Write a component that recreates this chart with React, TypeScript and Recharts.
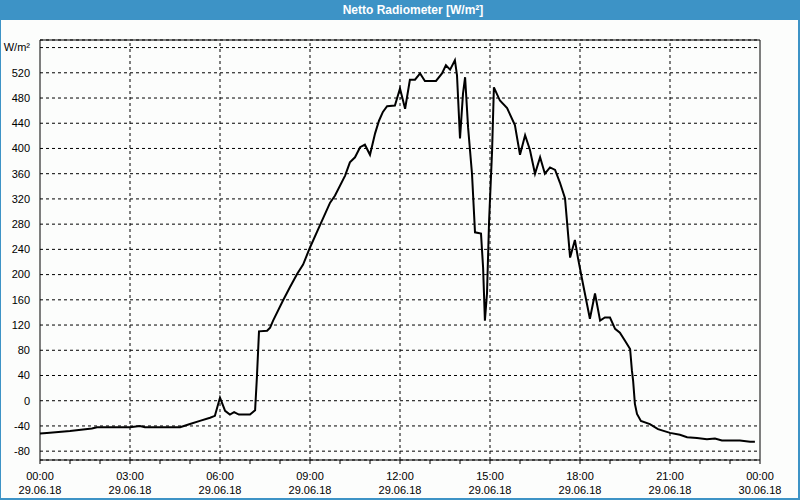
import React from 'react';
import {
  LineChart,
  Line,
  XAxis,
  YAxis,
  CartesianGrid,
  ReferenceLine,
  ReferenceArea
} from 'recharts';

// time of day in hours
const hours = [
  0, 0.23, 1.0, 1.73, 1.9, 3.0, 3.33, 3.5, 4.67, 5.0, 5.33, 5.67, 5.83, 6.0,
  6.17, 6.33, 6.47, 6.63, 7.0, 7.17, 7.23, 7.3, 7.57, 7.67, 7.77, 8.1, 8.33,
  8.57, 8.77, 9.0, 9.33, 9.67, 9.83, 10.17, 10.33, 10.5, 10.67, 10.83, 11.0,
  11.17, 11.3, 11.43, 11.57, 11.83, 12.0, 12.17, 12.33, 12.5, 12.67, 12.83,
  13.2, 13.4, 13.53, 13.67, 13.83, 13.9, 14.0, 14.1, 14.17, 14.27, 14.4, 14.5,
  14.7, 14.77, 14.83, 14.9, 14.97, 15.07, 15.13, 15.33, 15.57, 15.83, 16.0,
  16.17, 16.33, 16.5, 16.67, 16.83, 17.0, 17.17, 17.33, 17.5, 17.67, 17.83,
  17.93, 18.1, 18.33, 18.5, 18.67, 18.83, 19.0, 19.17, 19.33, 19.5, 19.67,
  19.73, 19.77, 19.83, 19.9, 20.03, 20.33, 20.6, 21.0, 21.33, 21.57, 21.9,
  22.23, 22.5, 22.73, 23.33, 23.67, 23.83
];

// net radiation in W/m²
const radiation = [
  -52, -51, -48, -44, -42, -42, -40, -42, -42, -37, -32, -27, -24, 5,
  -16, -22, -18, -22, -22, -15, 37, 110, 111, 116, 127, 159, 180,
  201, 216, 243, 278, 314, 325, 357, 378, 386, 402, 406, 390,
  424, 444, 458, 467, 468, 495, 463, 509, 509, 519, 507,
  507, 519, 532, 525, 540, 516, 416, 487, 513, 433, 360, 267,
  265, 211, 127, 170, 286, 397, 497, 476, 464, 437, 390,
  421, 398, 360, 386, 360, 370, 366, 346, 321, 227, 255,
  227, 185, 130, 170, 127, 132, 132, 114, 108, 95, 82,
  48, 32, -5, -21, -32, -37, -45, -51, -54, -58, -59,
  -61, -60, -63, -63, -65, -65
];

const yTicks = [-80, -40, 0, 40, 80, 120, 160, 200, 240, 280, 320, 360, 400, 440, 480, 520, 560];
const xTicks = [0, 1, 2, 3, 4, 5, 6, 7, 8, 9, 10, 11, 12, 13, 14, 15, 16, 17, 18, 19, 20, 21, 22, 23, 24];
const majorHours = [3, 6, 9, 12, 15, 18, 21];
const dayLabels = ['29.06.18', '30.06.18'];

const data = hours.map((h, i) => ({ h, value: radiation[i] }));

const FONT = '"Liberation Sans", Arial, sans-serif';
const BLUE = '#3d93c6';

const XTick = (props: any) => {
  const { x, y, payload } = props;
  const h: number = payload.value;
  const major = h % 3 === 0;
  const hh = String(h % 24).padStart(2, '0') + ':00';
  const day = dayLabels[h >= 24 ? 1 : 0];
  return (
    <g>
      <line x1={x} y1={y} x2={x} y2={y + 4} stroke="#000" />
      {major && (
        <text x={x} y={y + 20} textAnchor="middle" fontSize={11} fontFamily={FONT} fill="#000">
          {hh}
        </text>
      )}
      {major && (
        <text x={x} y={y + 34} textAnchor="middle" fontSize={11} fontFamily={FONT} fill="#000">
          {day}
        </text>
      )}
    </g>
  );
};

const App: React.FC = () => {
  return (
    <div style={{ position: 'fixed', left: 0, top: 0, width: 800, height: 500, background: '#fcfdfc' }}>
      <div style={{ position: 'absolute', left: 0, top: 0 }}>
        <LineChart width={800} height={500} data={data} margin={{ top: 40, right: 40, left: 0, bottom: 0 }}>
          <CartesianGrid vertical={false} stroke="#000" strokeDasharray="3 3" />
          {majorHours.map((t) => (
            <ReferenceLine key={t} x={t} stroke="#000" strokeDasharray="3 3" />
          ))}
          <XAxis
            dataKey="h"
            type="number"
            domain={[0, 24]}
            ticks={xTicks}
            interval={0}
            height={40}
            axisLine={false}
            tickLine={false}
            tickSize={0}
            tickMargin={0}
            tick={<XTick />}
          />
          <YAxis
            type="number"
            domain={[-94, 572]}
            ticks={yTicks}
            interval={0}
            width={40}
            axisLine={false}
            tickLine={false}
            tickMargin={4}
            tick={{ fontSize: 11, fontFamily: FONT, fill: '#000' }}
            tickFormatter={(v: number) => (v === 560 ? 'W/m²' : `${v}`)}
          />
          <ReferenceArea x1={0} x2={24} y1={-94} y2={572} fill="none" stroke="#000" strokeWidth={1} />
          <Line
            type="linear"
            dataKey="value"
            stroke="#000"
            strokeWidth={2}
            dot={false}
            isAnimationActive={false}
          />
        </LineChart>
      </div>
      <div
        style={{
          position: 'absolute',
          left: 0,
          top: 0,
          width: 800,
          height: 20,
          background: BLUE,
          color: '#fff',
          fontFamily: FONT,
          fontWeight: 700,
          fontSize: 12,
          lineHeight: '20px',
          textAlign: 'center',
          paddingLeft: 26,
          boxSizing: 'border-box'
        }}
      >
        Netto Radiometer [W/m²]
      </div>
      <div
        style={{
          position: 'absolute',
          left: 0,
          top: 0,
          width: 800,
          height: 500,
          boxSizing: 'border-box',
          borderLeft: `1px solid ${BLUE}`,
          borderRight: `2px solid ${BLUE}`,
          borderBottom: `2px solid ${BLUE}`,
          pointerEvents: 'none'
        }}
      />
    </div>
  );
};

export default App;
